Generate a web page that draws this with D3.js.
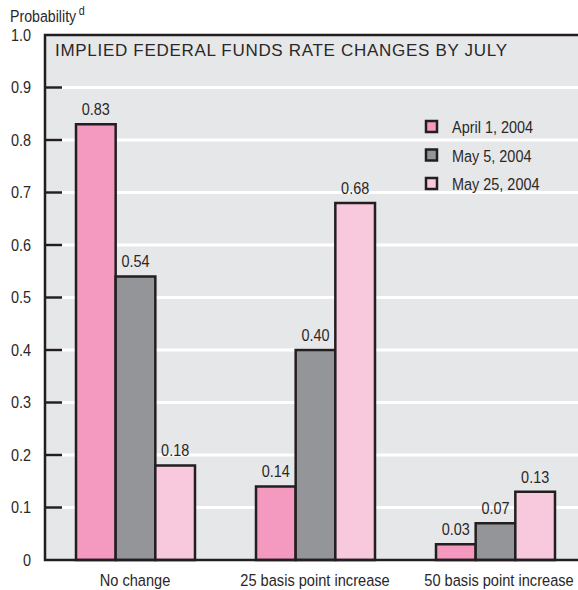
<!DOCTYPE html>
<html>
<head>
<meta charset="utf-8">
<script src="https://cdn.jsdelivr.net/npm/d3@7"></script>
<style>
  body { margin: 0; background: #fff; }
  svg { display: block; }
  text { font-family: "Liberation Sans", Arial, sans-serif; fill: #2b2728; }
</style>
</head>
<body>
<div id="chart"></div>
<script>
// categories and series
var categories = ['No change', '25 basis point increase', '50 basis point increase'];
var seriesNames = ['April 1, 2004', 'May 5, 2004', 'May 25, 2004'];
var april1 = [0.83, 0.14, 0.03];
var may5 = [0.54, 0.40, 0.07];
var may25 = [0.18, 0.68, 0.13];
var yTicks = [0, 0.1, 0.2, 0.3, 0.4, 0.5, 0.6, 0.7, 0.8, 0.9, 1.0];
var seriesColors = ['#f49ac1', '#939598', '#f8c8dd'];

var series = [april1, may5, may25];

var width = 578, height = 590;
var plotLeft = 45, plotTop = 35, plotBottom = 560;

var svg = d3.select('#chart').append('svg')
  .attr('width', width)
  .attr('height', height);

var y = d3.scaleLinear().domain([0, 1]).range([plotBottom, plotTop]);
var x0 = d3.scaleBand().domain(categories).range([plotLeft, plotLeft + 540]).padding(0);
var x1 = d3.scaleBand().domain(d3.range(seriesNames.length)).range([31, 150]).padding(0);

// narrow text: squeeze horizontally around anchor point
function narrow(sel, sx) {
  sel.attr('transform', function() {
    var t = d3.select(this);
    var xx = +t.attr('x'), yy = +t.attr('y');
    return 'translate(' + xx + ',' + yy + ') scale(' + sx + ',1) translate(' + (-xx) + ',' + (-yy) + ')';
  });
}

// background
svg.append('rect')
  .attr('x', plotLeft).attr('y', plotTop)
  .attr('width', width - plotLeft).attr('height', plotBottom - plotTop)
  .attr('fill', '#e6e7e8');

// gridlines
svg.append('g').selectAll('line')
  .data(yTicks.filter(d => d > 0 && d < 1))
  .enter().append('line')
  .attr('x1', plotLeft).attr('x2', width)
  .attr('y1', d => y(d)).attr('y2', d => y(d))
  .attr('stroke', '#fff').attr('stroke-width', 3);

// tick marks
svg.append('g').selectAll('line')
  .data(yTicks.filter(d => d > 0 && d < 1))
  .enter().append('line')
  .attr('x1', plotLeft).attr('x2', plotLeft + 17)
  .attr('y1', d => y(d)).attr('y2', d => y(d))
  .attr('stroke', '#231f20').attr('stroke-width', 2.5);

// tick labels
svg.append('g').selectAll('text')
  .data(yTicks)
  .enter().append('text')
  .attr('x', 31)
  .attr('y', d => y(d) + 6)
  .attr('text-anchor', 'end')
  .style('font-size', '17px')
  .text(d => d === 0 ? '0' : d3.format('.1f')(d))
  .call(narrow, 0.85);

// bars
var groups = svg.append('g').selectAll('g')
  .data(categories)
  .enter().append('g')
  .attr('transform', d => 'translate(' + x0(d) + ',0)');

groups.selectAll('rect')
  .data((c, ci) => series.map((s, si) => ({ si: si, v: s[ci] })))
  .enter().append('rect')
  .attr('x', d => x1(d.si))
  .attr('width', x1.bandwidth())
  .attr('y', d => y(d.v))
  .attr('height', d => plotBottom - y(d.v))
  .attr('fill', d => seriesColors[d.si])
  .attr('stroke', '#231f20')
  .attr('stroke-width', 2.5);

groups.selectAll('text')
  .data((c, ci) => series.map((s, si) => ({ si: si, v: s[ci] })))
  .enter().append('text')
  .attr('x', d => x1(d.si) + x1.bandwidth() / 2)
  .attr('y', d => y(d.v) - 9)
  .attr('text-anchor', 'middle')
  .style('font-size', '17px')
  .text(d => d3.format('.2f')(d.v))
  .call(narrow, 0.85);

// frame
svg.append('path')
  .attr('d', 'M' + width + ',' + plotTop + 'H' + plotLeft + 'V' + plotBottom + 'H' + width)
  .attr('fill', 'none')
  .attr('stroke', '#231f20')
  .attr('stroke-width', 2.5);

// category labels
svg.append('g').selectAll('text')
  .data(categories)
  .enter().append('text')
  .attr('x', (d, i) => x0(d) + 90 + (i === 2 ? 4 : 0))
  .attr('y', 586)
  .attr('text-anchor', 'middle')
  .style('font-size', '17px')
  .text(d => d)
  .call(narrow, 0.86);

// title
svg.append('text')
  .attr('x', 55).attr('y', 56)
  .attr('textLength', 452)
  .attr('lengthAdjust', 'spacing')
  .style('font-size', '17px')
  .text('IMPLIED FEDERAL FUNDS RATE CHANGES BY JULY');

// axis title
var yt = svg.append('text').attr('x', 10).attr('y', 22).style('font-size', '16.5px');
yt.append('tspan').text('Probability');
yt.append('tspan').attr('dx', 3).attr('dy', -7).style('font-size', '12.5px').text('d');
yt.call(narrow, 0.86);

// legend
var legend = svg.append('g').selectAll('g')
  .data(seriesNames)
  .enter().append('g')
  .attr('transform', (d, i) => 'translate(426,' + (121 + i * 28.5) + ')');

legend.append('rect')
  .attr('width', 11).attr('height', 11)
  .attr('fill', (d, i) => seriesColors[i])
  .attr('stroke', '#231f20').attr('stroke-width', 2.5);

legend.append('text')
  .attr('x', 26).attr('y', 12)
  .style('font-size', '17px')
  .text(d => d)
  .call(narrow, 0.85);
</script>
</body>
</html>
